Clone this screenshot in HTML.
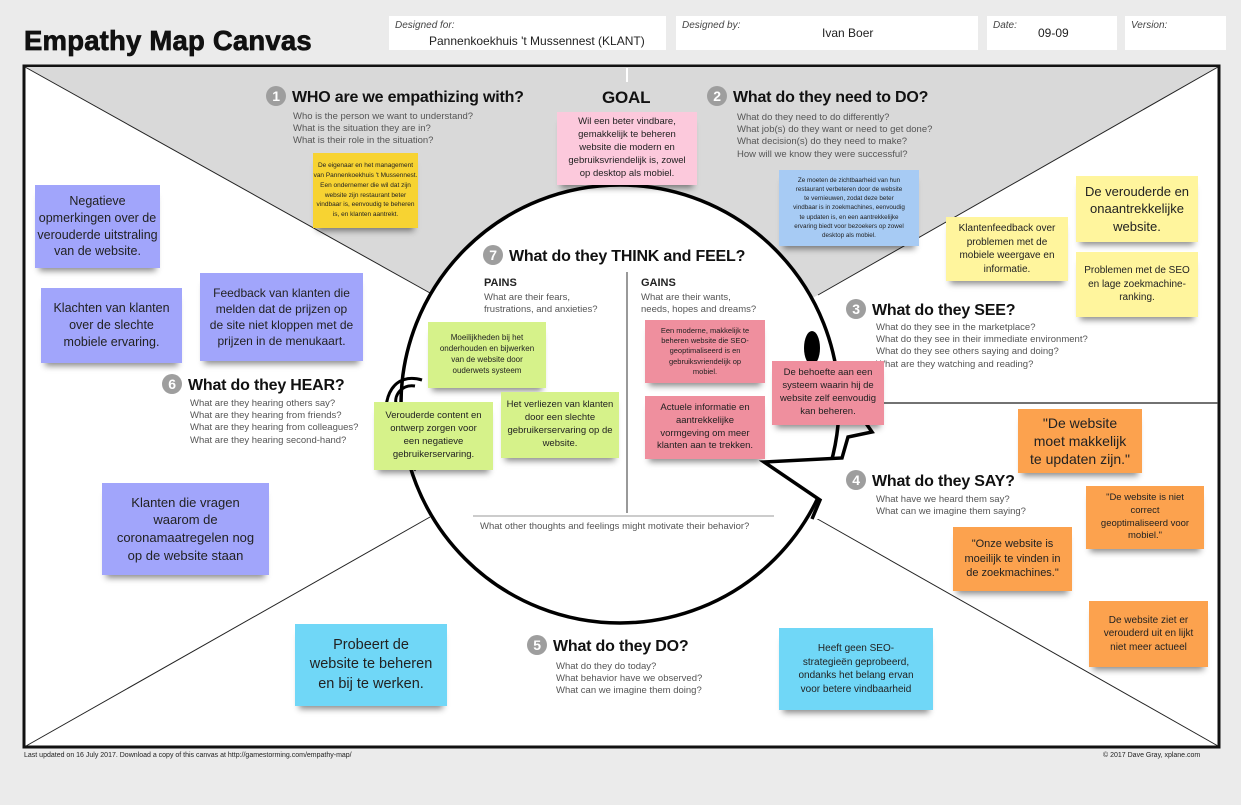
<!DOCTYPE html>
<html><head><meta charset="utf-8">
<style>
*{margin:0;padding:0;box-sizing:border-box}
body{width:1241px;height:805px;background:#ebebeb;position:relative;overflow:hidden;font-family:"Liberation Sans","DejaVu Sans",sans-serif}
.a{position:absolute}
.hb{position:absolute;background:#fff;height:34px;top:16px}
.hl{position:absolute;font-size:10px;font-style:italic;color:#444;top:4px;left:6px}
.hv{position:absolute;font-size:12px;color:#222}
.st{position:absolute;display:flex;align-items:center;justify-content:center;text-align:center;color:#222;box-shadow:0 7px 6px -4px rgba(0,0,0,.45);padding:2px;line-height:1.35;white-space:nowrap}
.t{position:absolute;font-size:16px;font-weight:bold;color:#111;white-space:nowrap;letter-spacing:-0.2px}
.n{display:inline-block;width:20px;height:20px;border-radius:50%;background:#9e9e9e;color:#fff;font-size:14px;text-align:center;line-height:20px;margin-right:6px;vertical-align:middle;position:relative;top:-2px}
.q{position:absolute;font-size:9.5px;color:#555;line-height:12.2px;white-space:nowrap}
.bl{background:#a1a5fb}.ye{background:#fff59d}.gr{background:#d6f28a}.pk{background:#ef8f9e}.or{background:#fca24e}.cy{background:#70d7f7}
</style></head><body>
<div class="a" style="left:24px;top:25px;font-size:27.5px;font-weight:bold;color:#111;letter-spacing:0.2px;-webkit-text-stroke:0.7px #111">Empathy Map Canvas</div>
<div class="hb" style="left:389px;width:277px"><span class="hl">Designed for:</span><span class="hv" style="left:40px;top:18px">Pannenkoekhuis 't Mussennest (KLANT)</span></div>
<div class="hb" style="left:676px;width:302px"><span class="hl">Designed by:</span><span class="hv" style="left:146px;top:10px">Ivan Boer</span></div>
<div class="hb" style="left:987px;width:130px"><span class="hl">Date:</span><span class="hv" style="left:51px;top:10px">09-09</span></div>
<div class="hb" style="left:1125px;width:101px"><span class="hl">Version:</span></div>

<svg class="a" style="left:0;top:0" width="1241" height="805">
<rect x="24" y="66" width="1195" height="681" fill="#fff" stroke="#111" stroke-width="3"/>
<polygon points="25,67 1218,67 818,295 620,404 430,293" fill="#d9d9d9"/>
<line x1="25" y1="67" x2="430" y2="293" stroke="#222" stroke-width="1"/>
<line x1="1218" y1="67" x2="818" y2="295" stroke="#222" stroke-width="1"/>
<line x1="26" y1="746" x2="430" y2="517" stroke="#222" stroke-width="1"/>
<line x1="1218" y1="746" x2="814" y2="517" stroke="#222" stroke-width="1"/>
<line x1="836" y1="403" x2="1218" y2="403" stroke="#444" stroke-width="1.5"/>
<line x1="627" y1="68" x2="627" y2="82" stroke="#fff" stroke-width="2"/>
<circle cx="620" cy="404" r="219" fill="#fff" stroke="#000" stroke-width="3.5"/>
<line x1="627" y1="272" x2="627" y2="513" stroke="#999" stroke-width="2"/>
<line x1="473" y1="516" x2="774" y2="516" stroke="#bbb" stroke-width="1.5"/>
<polygon points="838,383 872,432 848,437 842,458 764,462 820,500 812,519 860,519 860,383" fill="#fff"/>
<polyline points="838,383 872,432 848,437 842,458 764,462 820,500 812,519" fill="none" stroke="#000" stroke-width="3.5" stroke-linejoin="miter"/>
<ellipse cx="812" cy="348" rx="8" ry="17" fill="#000"/>
<path d="M422,380 C395,372 380,395 388,430 C392,450 405,462 416,470" fill="none" stroke="#000" stroke-width="3"/>
<path d="M415,386 C402,384 394,395 396,404" fill="none" stroke="#000" stroke-width="3"/>
</svg>

<div class="t" style="left:266px;top:88px"><span class="n">1</span>WHO are we empathizing with?</div>
<div class="q" style="left:293px;top:111px">Who is the person we want to understand?<br>What is the situation they are in?<br>What is their role in the situation?</div>
<div class="t" style="left:602px;top:88px;font-size:17px">GOAL</div>
<div class="t" style="left:707px;top:88px"><span class="n">2</span>What do they need to DO?</div>
<div class="q" style="left:737px;top:112px">What do they need to do differently?<br>What job(s) do they want or need to get done?<br>What decision(s) do they need to make?<br>How will we know they were successful?</div>
<div class="t" style="left:483px;top:247px"><span class="n">7</span>What do they THINK and FEEL?</div>
<div class="a" style="left:484px;top:277px;font-size:11px;font-weight:bold;color:#222">PAINS</div>
<div class="q" style="left:484px;top:292px">What are their fears,<br>frustrations, and anxieties?</div>
<div class="a" style="left:641px;top:277px;font-size:11px;font-weight:bold;color:#222">GAINS</div>
<div class="q" style="left:641px;top:292px">What are their wants,<br>needs, hopes and dreams?</div>
<div class="q" style="left:480px;top:521px">What other thoughts and feelings might motivate their behavior?</div>
<div class="t" style="left:846px;top:301px"><span class="n">3</span>What do they SEE?</div>
<div class="q" style="left:876px;top:322px">What do they see in the marketplace?<br>What do they see in their immediate environment?<br>What do they see others saying and doing?<br>What are they watching and reading?</div>
<div class="t" style="left:846px;top:472px"><span class="n">4</span>What do they SAY?</div>
<div class="q" style="left:876px;top:494px">What have we heard them say?<br>What can we imagine them saying?</div>
<div class="t" style="left:527px;top:637px"><span class="n">5</span>What do they DO?</div>
<div class="q" style="left:556px;top:661px">What do they do today?<br>What behavior have we observed?<br>What can we imagine them doing?</div>
<div class="t" style="left:162px;top:376px"><span class="n">6</span>What do they HEAR?</div>
<div class="q" style="left:190px;top:398px">What are they hearing others say?<br>What are they hearing from friends?<br>What are they hearing from colleagues?<br>What are they hearing second-hand?</div>

<div class="st" style="left:313px;top:153px;width:105px;height:75px;background:#f7d332;font-size:6.5px;line-height:1.5">De eigenaar en het management<br>van Pannenkoekhuis 't Mussennest.<br>Een ondernemer die wil dat zijn<br>website zijn restaurant beter<br>vindbaar is, eenvoudig te beheren<br>is, en klanten aantrekt.</div>
<div class="st" style="left:557px;top:112px;width:140px;height:73px;background:#fcc9dc;font-size:9.5px">Wil een beter vindbare,<br>gemakkelijk te beheren<br>website die modern en<br>gebruiksvriendelijk is, zowel<br>op desktop als mobiel.</div>
<div class="st" style="left:779px;top:170px;width:140px;height:76px;background:#a7cbf4;font-size:6.3px;line-height:1.45">Ze moeten de zichtbaarheid van hun<br>restaurant verbeteren door de website<br>te vernieuwen, zodat deze beter<br>vindbaar is in zoekmachines, eenvoudig<br>te updaten is, en een aantrekkelijke<br>ervaring biedt voor bezoekers op zowel<br>desktop als mobiel.</div>
<div class="st ye" style="left:946px;top:217px;width:122px;height:64px;font-size:10px">Klantenfeedback over<br>problemen met de<br>mobiele weergave en<br>informatie.</div>
<div class="st ye" style="left:1076px;top:176px;width:122px;height:66px;font-size:13px">De verouderde en<br>onaantrekkelijke<br>website.</div>
<div class="st ye" style="left:1076px;top:252px;width:122px;height:65px;font-size:10px">Problemen met de SEO<br>en lage zoekmachine-<br>ranking.</div>
<div class="st bl" style="left:35px;top:185px;width:125px;height:83px;font-size:12.5px">Negatieve<br>opmerkingen over de<br>verouderde uitstraling<br>van de website.</div>
<div class="st bl" style="left:41px;top:288px;width:141px;height:75px;font-size:12.5px">Klachten van klanten<br>over de slechte<br>mobiele ervaring.</div>
<div class="st bl" style="left:200px;top:273px;width:163px;height:88px;font-size:12px">Feedback van klanten die<br>melden dat de prijzen op<br>de site niet kloppen met de<br>prijzen in de menukaart.</div>
<div class="st bl" style="left:102px;top:483px;width:167px;height:92px;font-size:13px">Klanten die vragen<br>waarom de<br>coronamaatregelen nog<br>op de website staan</div>
<div class="st gr" style="left:428px;top:322px;width:118px;height:66px;font-size:8px">Moeilijkheden bij het<br>onderhouden en bijwerken<br>van de website door<br>ouderwets systeem</div>
<div class="st gr" style="left:374px;top:402px;width:119px;height:68px;font-size:9.5px">Verouderde content en<br>ontwerp zorgen voor<br>een negatieve<br>gebruikerservaring.</div>
<div class="st gr" style="left:501px;top:392px;width:118px;height:66px;font-size:9.5px">Het verliezen van klanten<br>door een slechte<br>gebruikerservaring op de<br>website.</div>
<div class="st pk" style="left:645px;top:320px;width:120px;height:63px;font-size:7.5px">Een moderne, makkelijk te<br>beheren website die SEO-<br>geoptimaliseerd is en<br>gebruiksvriendelijk op<br>mobiel.</div>
<div class="st pk" style="left:645px;top:396px;width:120px;height:63px;font-size:9.5px">Actuele informatie en<br>aantrekkelijke<br>vormgeving om meer<br>klanten aan te trekken.</div>
<div class="st pk" style="left:772px;top:361px;width:112px;height:64px;font-size:9.5px">De behoefte aan een<br>systeem waarin hij de<br>website zelf eenvoudig<br>kan beheren.</div>
<div class="st or" style="left:1018px;top:409px;width:124px;height:64px;font-size:14px;line-height:1.3">"De website<br>moet makkelijk<br>te updaten zijn."</div>
<div class="st or" style="left:1086px;top:486px;width:118px;height:63px;font-size:9.5px">"De website is niet<br>correct<br>geoptimaliseerd voor<br>mobiel."</div>
<div class="st or" style="left:953px;top:527px;width:119px;height:64px;font-size:11px">"Onze website is<br>moeilijk te vinden in<br>de zoekmachines."</div>
<div class="st or" style="left:1089px;top:601px;width:119px;height:66px;font-size:10px">De website ziet er<br>verouderd uit en lijkt<br>niet meer actueel</div>
<div class="st cy" style="left:295px;top:624px;width:152px;height:82px;font-size:14.5px">Probeert de<br>website te beheren<br>en bij te werken.</div>
<div class="st cy" style="left:779px;top:628px;width:154px;height:82px;font-size:10px">Heeft geen SEO-<br>strategieën geprobeerd,<br>ondanks het belang ervan<br>voor betere vindbaarheid</div>

<div class="a" style="left:24px;top:752px;font-size:7px;color:#222">Last updated on 16 July 2017. Download a copy of this canvas at http://gamestorming.com/empathy-map/</div>
<div class="a" style="left:1103px;top:752px;font-size:7px;color:#222">© 2017 Dave Gray, xplane.com</div>
</body></html>
